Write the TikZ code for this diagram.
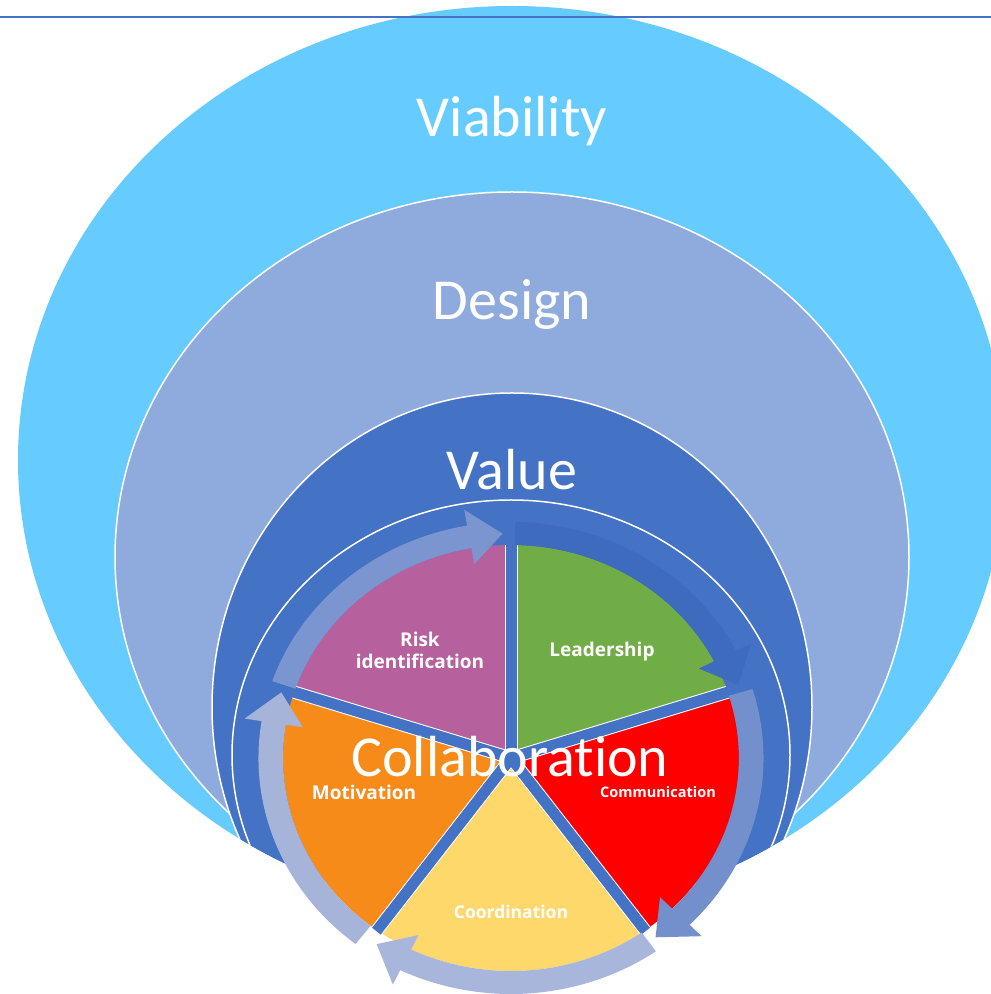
\documentclass[tikz,border=0pt]{standalone}
\usepackage{fontspec}
\setmainfont{Carlito}[Ligatures=NoCommon]
\newfontfamily\lblfont{Open Sans}
\usetikzlibrary{positioning}

\definecolor{viabilityblue}{HTML}{66CCFF}
\definecolor{designblue}{HTML}{8FAADC}
\definecolor{valueblue}{HTML}{4472C4}
\definecolor{riskpurple}{HTML}{B6609E}
\definecolor{leadgreen}{HTML}{70AD47}
\definecolor{commred}{HTML}{FF0000}
\definecolor{coordyellow}{HTML}{FED86B}
\definecolor{motivorange}{HTML}{F68B1A}
\definecolor{arrowone}{HTML}{7B95D0}
\definecolor{arrowtwo}{HTML}{3E6BBD}
\definecolor{arrowthree}{HTML}{7490CC}
\definecolor{arrowfour}{HTML}{A9B6DB}
\definecolor{arrowfive}{HTML}{A7B4DA}

\tikzset{
  ring/.style={draw=white, line width=1.5pt},
  bigtext/.style={text=white, inner sep=0pt, anchor=base, font=\fontsize{58}{60}\selectfont},
  seglabel/.style={text=white, inner sep=0pt, anchor=base, align=center},
}

\newcommand{\cyclearrow}[3]{%
  \pgfmathsetmacro{\hb}{#3+8}
  \fill[#1] (#2:213) arc[start angle=#2, end angle=\hb, radius=213]
    -- (\hb:197) -- (#3:224.5) -- (\hb:252) -- (\hb:236)
    arc[start angle=\hb, end angle=#2, radius=236] -- cycle;
}

\begin{document}
\begin{tikzpicture}[x=1pt, y=1pt]
  \clip (0,0) rectangle (991,994);
  \fill[white] (0,0) rectangle (991,994);

  \fill[viabilityblue] (512,534) ellipse [x radius=494, y radius=454];
  \draw[valueblue, line width=1.5pt] (0,977) -- (991,977);

  \begin{scope}
    \clip (512,534) ellipse [x radius=494, y radius=454];
    \filldraw[fill=designblue, ring] (512,437) ellipse [x radius=397, y radius=365];
    \filldraw[fill=valueblue, ring] (512,287) ellipse [x radius=300, y radius=314];
    \filldraw[fill=valueblue, ring] (511,239) ellipse [x radius=279, y radius=255];
  \end{scope}

  \node[bigtext] (viability) at (512,857) {Viability};
  \node[bigtext] (design) at (512,674) {Design};
  \node[bigtext] (value) at (512,504) {Value};

  \begin{scope}[shift={(511,236)}, xscale=1.07]
    \fill[leadgreen] (0,0) -- (18:213) arc[start angle=18, end angle=90, radius=213] -- cycle;
    \fill[riskpurple] (0,0) -- (90:213) arc[start angle=90, end angle=162, radius=213] -- cycle;
    \fill[motivorange] (0,0) -- (162:213) arc[start angle=162, end angle=234, radius=213] -- cycle;
    \fill[coordyellow] (0,0) -- (234:213) arc[start angle=234, end angle=306, radius=213] -- cycle;
    \fill[commred] (0,0) -- (306:213) arc[start angle=306, end angle=378, radius=213] -- cycle;
    \foreach \a in {18,90,162,234,306}
      \draw[white, line width=13pt] (0,0) -- (\a:213);
    \foreach \a in {18,90,162,234,306}
      \draw[valueblue, line width=11pt] (0,0) -- (\a:214);

    \cyclearrow{arrowone}{161}{92}
    \cyclearrow{arrowtwo}{89}{19}
    \cyclearrow{arrowthree}{17}{-53}
    \cyclearrow{arrowfour}{-55}{-124}
    \cyclearrow{arrowfive}{-128}{-197}
  \end{scope}

  \node[seglabel, anchor=center, font=\lblfont\bfseries\fontsize{19}{22}\selectfont] (risk) at (420,344) {Risk\\identification};
  \node[seglabel, font=\lblfont\bfseries\fontsize{19}{22}\selectfont] (leadership) at (602,337) {Leadership};
  \node[seglabel, font=\lblfont\bfseries\fontsize{19}{22}\selectfont] (motivation) at (364,194) {Motivation};
  \node[seglabel, font=\lblfont\bfseries\fontsize{14.5}{17}\selectfont] (communication) at (658,196) {Communication};
  \node[seglabel, font=\lblfont\bfseries\fontsize{17.5}{20}\selectfont] (coordination) at (511,75) {Coordination};

  \node[bigtext] (collaboration) at (510,217) {Collaboration};
\end{tikzpicture}
\end{document}
